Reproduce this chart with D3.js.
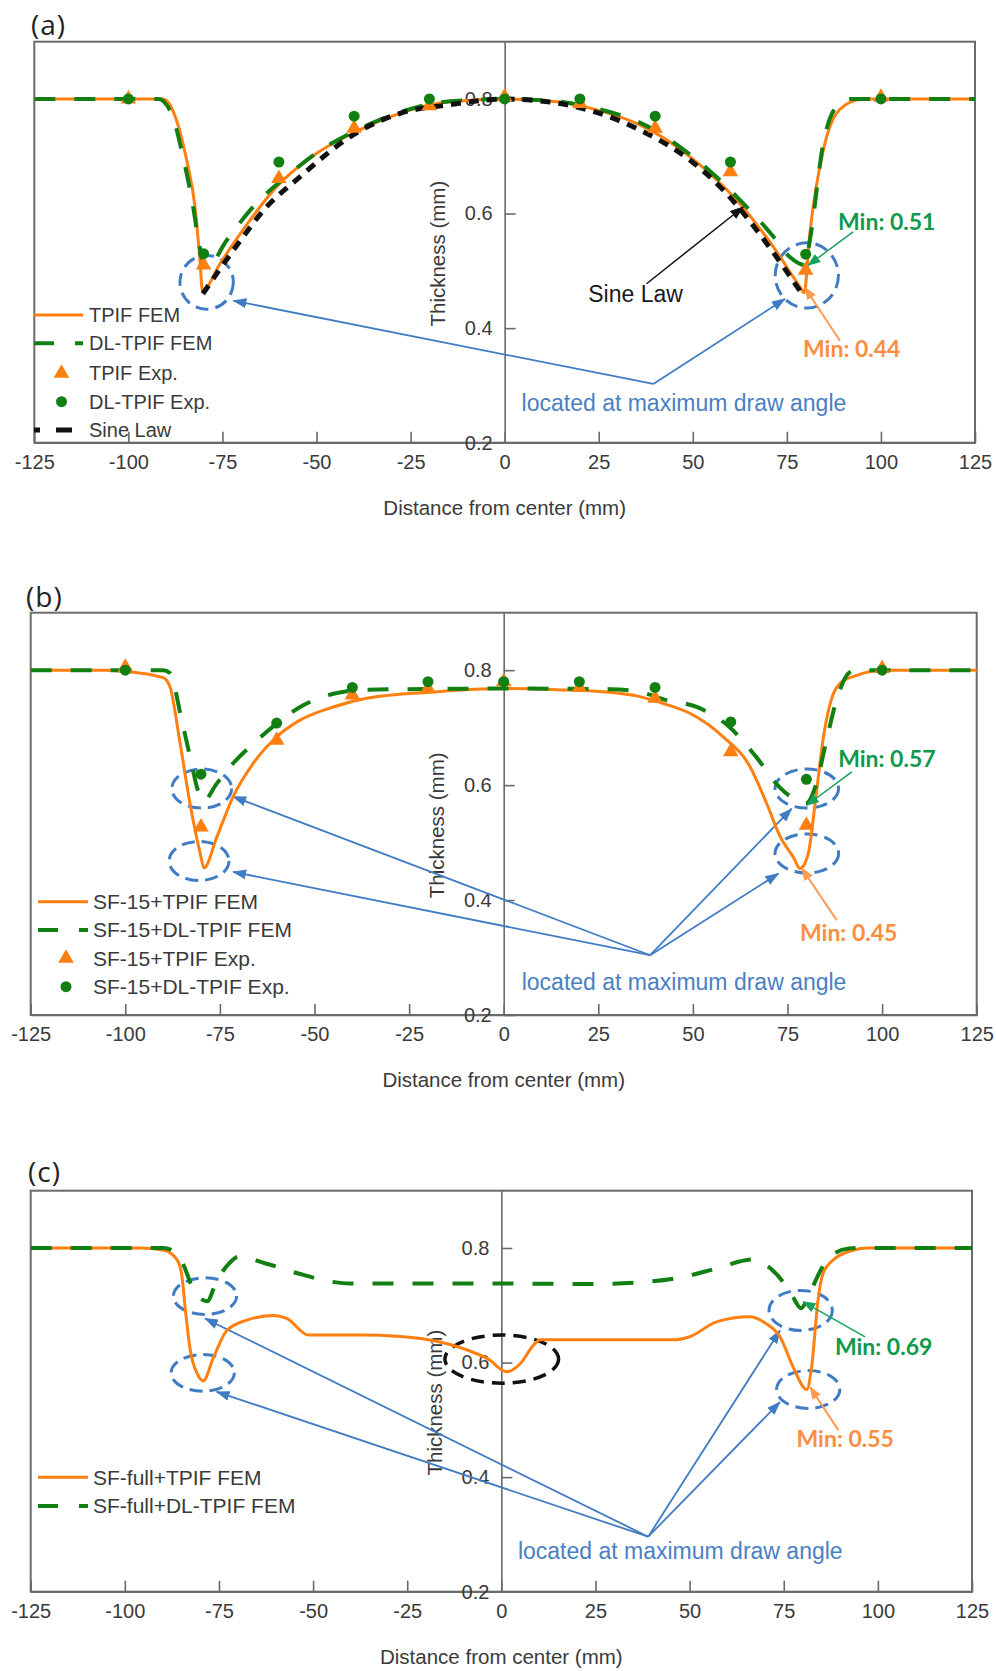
<!DOCTYPE html>
<html><head><meta charset="utf-8">
<script src="https://cdn.jsdelivr.net/npm/d3@7"></script>
<style>body{margin:0;background:#fff}</style>
</head><body><svg id="chart" width="996" height="1671"></svg>
<script>
// ---------------- DATA ----------------
const xTicks = [-125,-100,-75,-50,-25,0,25,50,75,100,125];
const yTicks = [0.2,0.4,0.6,0.8];
const expX = [-100,-80,-60,-40,-20,0,20,40,60,80,100];

// Panel (a)
const aTpifFem = [[-125,0.8],[-91,0.8],[-89.8,0.797],[-87.2,0.763],[-84.5,0.693],[-82.3,0.612],[-81,0.52],[-80.3,0.465],
 [-75.7,0.512],[-67.7,0.588],[-60.6,0.647],[-50,0.705],[-38.5,0.746],[-27.8,0.775],[-14.5,0.795],[0,0.8],
 [13.8,0.795],[22.7,0.784],[38.6,0.746],[49.3,0.699],[62.5,0.617],[71.4,0.542],[78.5,0.472],[79.6,0.462],
 [81.1,0.565],[84.7,0.711],[88.2,0.775],[93.5,0.798],[96,0.8],[125,0.8]];
const aDlTpifFem = [[-125,0.8],[-92,0.8],[-90.5,0.795],[-88,0.765],[-85.5,0.7],[-83,0.62],[-81,0.54],[-80.3,0.52],[-79.2,0.505],
 [-73.9,0.553],[-66.8,0.612],[-57,0.67],[-50,0.706],[-38.5,0.748],[-27.8,0.777],[-14.5,0.796],[0,0.8],
 [13.8,0.796],[22.7,0.786],[38.6,0.75],[49.3,0.703],[62.5,0.624],[71.4,0.56],[75.8,0.524],[79.8,0.51],
 [81.1,0.553],[84.7,0.723],[88.2,0.787],[92,0.8],[125,0.8]];
const aSineLaw = [[-80.2,0.46],[-72.1,0.536],[-63.2,0.612],[-54.4,0.664],[-41.1,0.734],[-27.8,0.775],[-14.5,0.79],[0,0.8],
 [13.8,0.793],[22.7,0.78],[35.9,0.746],[49.3,0.693],[58.1,0.641],[67,0.571],[74.1,0.507],[79,0.46]];
const aTpifExp = [0.8,0.51,0.661,0.749,0.788,0.804,0.792,0.749,0.673,0.501,0.803];
const aDlTpifExp = [0.8,0.53,0.69,0.77,0.8,0.8,0.8,0.77,0.69,0.529,0.8];

// Panel (b)
const bTpifFem = [[-125,0.8],[-105,0.8],[-100,0.798],[-90,0.787],[-88.2,0.771],[-85.5,0.672],[-82.9,0.568],[-80.2,0.481],[-79.2,0.456],
 [-75.8,0.51],[-71.5,0.58],[-66.2,0.638],[-60,0.684],[-53.8,0.713],[-45,0.736],[-36.2,0.751],[-18.6,0.762],[0,0.768],
 [14,0.766],[27.2,0.762],[36,0.754],[42.2,0.742],[49.2,0.725],[58,0.684],[65.1,0.632],[69.5,0.568],[73.1,0.51],[76.5,0.475],
 [78.3,0.455],[80.5,0.481],[82.3,0.568],[84.5,0.684],[87.1,0.759],[88.9,0.777],[93.3,0.791],[100.3,0.8],[125,0.8]];
const bDlTpifFem = [[-125,0.8],[-90,0.8],[-88.2,0.795],[-85.1,0.713],[-82.5,0.638],[-81.1,0.597],[-79.4,0.572],
 [-75.8,0.603],[-71.5,0.638],[-66.2,0.672],[-60,0.707],[-53.8,0.736],[-45,0.759],[-36.2,0.766],[0,0.768],
 [28.2,0.767],[36,0.762],[43,0.748],[51,0.736],[59.5,0.702],[66.6,0.65],[72.8,0.597],[77.2,0.574],[79.8,0.568],
 [82.5,0.6],[85.1,0.672],[87.7,0.742],[91.2,0.795],[93,0.8],[125,0.8]];
const bTpifExp = [0.805,0.527,0.678,0.757,0.768,0.78,0.77,0.751,0.658,0.53,0.803];
const bDlTpifExp = [0.8,0.619,0.708,0.77,0.78,0.78,0.78,0.77,0.71,0.61,0.8];

// Panel (c)
const cTpifFem = [[-125,0.8],[-95.8,0.8],[-89.6,0.796],[-86.1,0.779],[-84.8,0.749],[-83.9,0.691],[-82.6,0.621],[-80.8,0.581],[-79.2,0.568],
 [-76.4,0.61],[-72.9,0.656],[-67.6,0.674],[-60.5,0.682],[-57,0.677],[-51.2,0.648],[-36.6,0.648],[-27.8,0.646],[-16.3,0.636],
 [-7.5,0.618],[-3,0.604],[0.1,0.587],[1.4,0.584],[5,0.598],[8.5,0.63],[10.3,0.64],[46.4,0.64],[50,0.645],[57.1,0.671],
 [65.9,0.68],[70.3,0.668],[74,0.645],[77.5,0.592],[81.1,0.553],[82.4,0.592],[84.1,0.709],[85.4,0.755],[88.1,0.779],
 [93.4,0.796],[97.4,0.8],[125,0.8]];
const cDlTpifFem = [[-125,0.8],[-89.9,0.8],[-86.5,0.793],[-84.2,0.767],[-82.5,0.738],[-81.1,0.72],[-78.1,0.707],[-75.9,0.738],
 [-72.3,0.773],[-69.7,0.785],[-62.6,0.773],[-53.7,0.755],[-44.9,0.741],[-40.4,0.738],[0,0.738],[23.3,0.737],[36.6,0.74],
 [46.4,0.747],[57,0.764],[66.8,0.78],[70.3,0.77],[74.8,0.741],[77.4,0.715],[79.6,0.695],[81.8,0.72],[84.8,0.761],
 [87,0.784],[92.3,0.799],[95,0.8],[125,0.8]];

// Annotations (data units): ellipses [cx, cy, rx, ry]
const aEllipses = [[-79.2,0.48,7.1,0.047],[80.3,0.492,8.4,0.057]];
const bEllipses = [[-79.8,0.594,7.9,0.034],[-80.5,0.468,7.9,0.034],[80.1,0.594,8.4,0.034],[80.1,0.481,8.4,0.034]];
const cEllipses = [[-78.7,0.716,8.4,0.032],[-79.3,0.582,8.4,0.032],[79.5,0.691,8.4,0.035],[81.5,0.553,8.4,0.033]];
const cBlackEllipse = [0.1,0.606,15.1,0.042];
// blue arrows [x1,y1,x2,y2]
const aBlueArrows = [[39.5,0.3025,-72.1,0.448],[39.5,0.3025,74.5,0.451]];
const bBlueArrows = [[38.7,0.304,-71.5,0.58],[38.7,0.304,-71.5,0.449],[38.7,0.304,76.1,0.559],[38.7,0.304,72.6,0.446]];
const cBlueArrows = [[39.0,0.296,-78.7,0.677],[39.0,0.296,-75.6,0.549],[39.0,0.296,74,0.656],[39.0,0.296,74,0.531]];
const aSineArrow = [37.7,0.4775,63.4,0.6115];
// min labels: text, x, y ; arrows
const aMinText = ['Min: 0.51','Min: 0.44'];
const aMinPos = [[88.6,0.585],[79.3,0.364]];
const aMinArrows = [[92.6,0.568,80.7,0.51],[89.1,0.378,79.8,0.471]];
const bMinText = ['Min: 0.57','Min: 0.45'];
const bMinPos = [[88.4,0.646],[78.3,0.343]];
const bMinArrows = [[92,0.623,80.1,0.565],[88,0.365,78.8,0.455]];
const cMinText = ['Min: 0.69','Min: 0.55'];
const cMinPos = [[88.6,0.627],[78.4,0.466]];
const cMinArrows = [[96.6,0.645,80.2,0.706],[89.5,0.482,82,0.557]];
const noteText = 'located at maximum draw angle';
const notePos = {a:[4.5,0.27], b:[4.76,0.258], c:[4.4,0.272]};

// ---------------- STYLE ----------------
const FONT = "'Liberation Sans', Arial, sans-serif";
const FONT2 = "Lato, 'Open Sans', sans-serif";
const ORANGE = '#ff7f10', GREEN = '#117f11', BLUE = '#3f7cc3', BLUE_TXT = '#4a80c2';
const GREEN_TXT = '#0e9a4a', ORANGE_TXT = '#fb8f3f', AXIS = '#6a6a6a', TXT = '#3a3a3a';

const svg = d3.select('#chart');
const defs = svg.append('defs');
function marker(id, color, w, h) {
  defs.append('marker').attr('id', id).attr('markerUnits','userSpaceOnUse')
    .attr('viewBox',`0 0 ${w} ${h}`).attr('markerWidth', w).attr('markerHeight', h)
    .attr('refX', w-1).attr('refY', h/2).attr('orient','auto')
    .append('path').attr('d',`M0,0L${w},${h/2}L0,${h}Z`).attr('fill', color);
}
marker('mBlue', BLUE, 14, 10);
marker('mBlack', '#111', 14, 10);
marker('mGreen', '#17a35b', 13, 10);
marker('mOrange', '#ff9a50', 13, 10);

const xDomain = [-125,125], yDomain = [0.2,0.9];

const panels = [
 {label:'(a)', lx:31, ly:25, left:34.3, right:975, top:41.7, bottom:442.7,
  fem1:aTpifFem, fem2:aDlTpifFem, sine:aSineLaw, exp1:aTpifExp, exp2:aDlTpifExp,
  ell:aEllipses, blue:aBlueArrows, minText:aMinText, minPos:aMinPos, minArr:aMinArrows, note:notePos.a,
  legX0:34, legX1:83, legTx:89, legFs:20,
  legend:[['orange','TPIF FEM',315],['green','DL-TPIF FEM',343.3],['tri','TPIF Exp.',373.3],['dot','DL-TPIF Exp.',401.7],['black','Sine Law',430]]},
 {label:'(b)', lx:26, ly:597, left:30.7, right:976.7, top:612.7, bottom:1015,
  fem1:bTpifFem, fem2:bDlTpifFem, exp1:bTpifExp, exp2:bDlTpifExp,
  ell:bEllipses, blue:bBlueArrows, minText:bMinText, minPos:bMinPos, minArr:bMinArrows, note:notePos.b,
  legX0:38, legX1:88, legTx:93, legFs:21,
  legend:[['orange','SF-15+TPIF FEM',901.7],['green','SF-15+DL-TPIF FEM',930],['tri','SF-15+TPIF Exp.',958.3],['dot','SF-15+DL-TPIF Exp.',986.7]]},
 {label:'(c)', lx:28, ly:1172, left:30.7, right:972, top:1190.7, bottom:1591.7,
  fem1:cTpifFem, fem2:cDlTpifFem,
  ell:cEllipses, blackEll:cBlackEllipse, blue:cBlueArrows, minText:cMinText, minPos:cMinPos, minArr:cMinArrows, note:notePos.c,
  legX0:38, legX1:88, legTx:93, legFs:21,
  legend:[['orange','SF-full+TPIF FEM',1477.3],['green','SF-full+DL-TPIF FEM',1506]]}
];

panels.forEach(p => {
  const x = d3.scaleLinear().domain(xDomain).range([p.left, p.right]);
  const y = d3.scaleLinear().domain(yDomain).range([p.bottom, p.top]);
  const g = svg.append('g');

  g.append('text').attr('x', p.lx).attr('y', p.ly).attr('dy','0.35em')
    .attr('font-family', "'Open Sans', sans-serif").attr('font-size', 28).attr('letter-spacing', 1)
    .attr('fill', '#222').text(p.label);

  g.append('rect').attr('x', p.left).attr('y', p.top).attr('width', p.right - p.left).attr('height', p.bottom - p.top)
    .attr('fill','none').attr('stroke', AXIS).attr('stroke-width', 2);

  const xa = g.append('g').attr('transform', `translate(0,${p.bottom})`)
    .call(d3.axisBottom(x).tickValues(xTicks).tickSizeInner(-11).tickSizeOuter(0).tickPadding(12).tickFormat(d => String(d)));
  const ya = g.append('g').attr('transform', `translate(${x(0)},0)`)
    .call(d3.axisLeft(y).tickValues(yTicks).tickSizeInner(-11).tickSizeOuter(0).tickPadding(12).tickFormat(d => d.toFixed(1)));
  [xa, ya].forEach(a => {
    a.selectAll('path, line').attr('stroke', AXIS).attr('stroke-width', 1.6);
    a.selectAll('text').attr('font-family', FONT).attr('font-size', 20).attr('fill', TXT);
  });

  g.append('text').attr('x', x(0)).attr('y', p.bottom + 65).attr('dy','0.35em').attr('text-anchor','middle')
    .attr('font-family', FONT).attr('font-size', 20.5).attr('fill', TXT).text('Distance from center (mm)');
  g.append('text').attr('transform', `translate(${x(0) - 67},${y(0.53)}) rotate(-90)`).attr('dy','0.35em')
    .attr('text-anchor','middle').attr('font-family', FONT).attr('font-size', 20.5).attr('fill', TXT).text('Thickness (mm)');

  // ellipses
  const ellipse = (e, color, dash, sw) => g.append('ellipse')
    .attr('cx', x(e[0])).attr('cy', y(e[1])).attr('rx', x(e[0] + e[2]) - x(e[0])).attr('ry', y(e[1]) - y(e[1] + e[3]))
    .attr('fill','none').attr('stroke', color).attr('stroke-width', sw).attr('stroke-dasharray', dash);
  p.ell.forEach(e => ellipse(e, BLUE, '13,7', 3));
  if (p.blackEll) ellipse(p.blackEll, '#111', '13,8', 3.5);

  // blue arrows
  p.blue.forEach(a => g.append('line').attr('x1', x(a[0])).attr('y1', y(a[1])).attr('x2', x(a[2])).attr('y2', y(a[3]))
    .attr('stroke', BLUE).attr('stroke-width', 1.8).attr('marker-end','url(#mBlue)'));

  const line = d3.line().x(d => x(d[0])).y(d => y(d[1])).curve(d3.curveMonotoneX);
  // curves
  g.append('path').datum(p.fem1).attr('d', line).attr('fill','none').attr('stroke', ORANGE).attr('stroke-width', 3);
  g.append('path').datum(p.fem2).attr('d', line).attr('fill','none').attr('stroke', GREEN).attr('stroke-width', 4)
    .attr('stroke-dasharray','21,19');
  if (p.sine) g.append('path').datum(p.sine).attr('d', line).attr('fill','none').attr('stroke', '#111')
    .attr('stroke-width', 5).attr('stroke-dasharray','10,8');

  // experimental markers
  const tri = d3.symbol(d3.symbolTriangle).size(105)();
  if (p.exp1) g.selectAll(null).data(p.exp1).enter().append('path').attr('d', tri)
    .attr('transform', (d, i) => `translate(${x(expX[i])},${y(d)})`).attr('fill', ORANGE);
  if (p.exp2) g.selectAll(null).data(p.exp2).enter().append('circle')
    .attr('cx', (d, i) => x(expX[i])).attr('cy', d => y(d)).attr('r', 5.5).attr('fill', GREEN);

  // sine law annotation
  if (p.sine) {
    g.append('line').attr('x1', x(aSineArrow[0])).attr('y1', y(aSineArrow[1])).attr('x2', x(aSineArrow[2])).attr('y2', y(aSineArrow[3]))
      .attr('stroke', '#111').attr('stroke-width', 1.5).attr('marker-end','url(#mBlack)');
    g.append('text').attr('x', x(34.8)).attr('y', y(0.46)).attr('dy','0.35em').attr('text-anchor','middle')
      .attr('font-family', FONT).attr('font-size', 23).attr('fill', '#1a1a1a').text('Sine Law');
  }

  // min labels
  const minColors = [GREEN_TXT, ORANGE_TXT], minMarkers = ['url(#mGreen)','url(#mOrange)'], minLineCol = ['#17a35b','#ff9a50'];
  p.minArr.forEach((a, i) => g.append('line').attr('x1', x(a[0])).attr('y1', y(a[1])).attr('x2', x(a[2])).attr('y2', y(a[3]))
    .attr('stroke', minLineCol[i]).attr('stroke-width', i ? 2 : 1.5).attr('marker-end', minMarkers[i]));
  p.minText.forEach((t, i) => g.append('text').attr('x', x(p.minPos[i][0])).attr('y', y(p.minPos[i][1])).attr('dy','0.35em')
    .attr('font-family', FONT2).attr('font-weight', 'bold').attr('font-size', 23).attr('fill', minColors[i]).text(t));

  g.append('text').attr('x', x(p.note[0])).attr('y', y(p.note[1])).attr('dy','0.35em')
    .attr('font-family', FONT).attr('font-size', 23).attr('fill', BLUE_TXT).text(noteText);

  // legend
  p.legend.forEach(([type, label, ly]) => {
    const mx = (p.legX0 + p.legX1) / 2 + 3;
    if (type === 'orange') g.append('line').attr('x1', p.legX0).attr('x2', p.legX1).attr('y1', ly).attr('y2', ly)
      .attr('stroke', ORANGE).attr('stroke-width', 3);
    if (type === 'green') g.append('line').attr('x1', p.legX0).attr('x2', p.legX1).attr('y1', ly).attr('y2', ly)
      .attr('stroke', GREEN).attr('stroke-width', 4).attr('stroke-dasharray','20,21');
    if (type === 'black') g.append('line').attr('x1', p.legX0).attr('x2', p.legX1 - 10).attr('y1', ly).attr('y2', ly)
      .attr('stroke', '#111').attr('stroke-width', 5).attr('stroke-dasharray','6,16,16,20');
    if (type === 'tri') g.append('path').attr('d', tri).attr('transform', `translate(${mx},${ly})`).attr('fill', ORANGE);
    if (type === 'dot') g.append('circle').attr('cx', mx).attr('cy', ly).attr('r', 5.5).attr('fill', GREEN);
    g.append('text').attr('x', p.legTx).attr('y', ly).attr('dy','0.35em').attr('font-family', FONT)
      .attr('font-size', p.legFs).attr('fill', TXT).text(label);
  });
});
</script></body></html>
